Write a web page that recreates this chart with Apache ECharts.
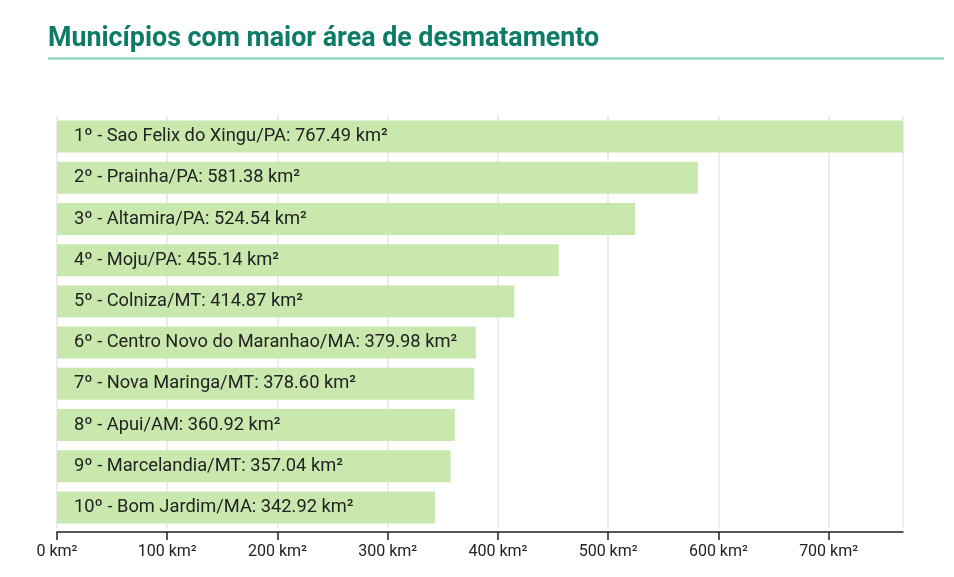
<!DOCTYPE html>
<html>
<head>
<meta charset="utf-8">
<title>Municípios com maior área de desmatamento</title>
<script src="https://cdn.jsdelivr.net/npm/echarts@6/dist/echarts.min.js"></script>
<style>
  html, body { margin: 0; padding: 0; background: #ffffff; }
  #chart { width: 954px; height: 577px; }
</style>
</head>
<body>
<div id="chart"></div>
<script>
// dados
const municipios = [
    "Sao Felix do Xingu/PA",
    "Prainha/PA",
    "Altamira/PA",
    "Moju/PA",
    "Colniza/MT",
    "Centro Novo do Maranhao/MA",
    "Nova Maringa/MT",
    "Apui/AM",
    "Marcelandia/MT",
    "Bom Jardim/MA"
];
const areas = [767.49, 581.38, 524.54, 455.14, 414.87, 379.98, 378.60, 360.92, 357.04, 342.92];
const unidade = "km²";

const chart = echarts.init(document.getElementById("chart"));

const option = {
    animation: false,
    title: {
        text: "Municípios com maior área de desmatamento",
        left: 43,
        top: 21,
        textStyle: {
            fontFamily: "Roboto",
            fontWeight: "bold",
            fontSize: 26.8,
            color: "#0e7b66"
        }
    },
    // linha abaixo do título
    graphic: [{
        type: "line",
        shape: { x1: 48, y1: 58.5, x2: 944, y2: 58.5 },
        style: { stroke: "#80cfb7", lineWidth: 2 }
    }],
    grid: {
        left: 57,
        right: 51,
        top: 116,
        bottom: 49
    },
    xAxis: {
        type: "value",
        min: 0,
        max: "dataMax",
        interval: 100,
        offset: 4,
        axisLine: { show: true, lineStyle: { color: "#222", width: 1.5 } },
        axisTick: { show: true, length: 8, lineStyle: { color: "#222", width: 1.5 } },
        axisLabel: {
            formatter: "{value} " + unidade,
            showMaxLabel: false,
            color: "#222",
            fontFamily: "Roboto",
            fontSize: 16,
            margin: 12
        },
        splitLine: { show: true, lineStyle: { color: "#e6e6e6", width: 1.5 } }
    },
    yAxis: {
        type: "category",
        inverse: true,
        data: municipios,
        axisLine: { show: false },
        axisTick: { show: false },
        axisLabel: { show: false }
    },
    series: [{
        type: "bar",
        data: areas,
        barWidth: 32,
        itemStyle: { color: "#c9e8ae" },
        label: {
            show: true,
            position: "insideLeft",
            distance: 17,
            color: "#222",
            fontFamily: "Roboto",
            fontSize: 18.3,
            formatter: function (p) {
                return (p.dataIndex + 1) + "º - " + municipios[p.dataIndex] + ": " + p.value.toFixed(2) + " " + unidade;
            }
        }
    }]
};

chart.setOption(option);
window.addEventListener("resize", function () {
    chart.resize();
});
</script>
</body>
</html>
